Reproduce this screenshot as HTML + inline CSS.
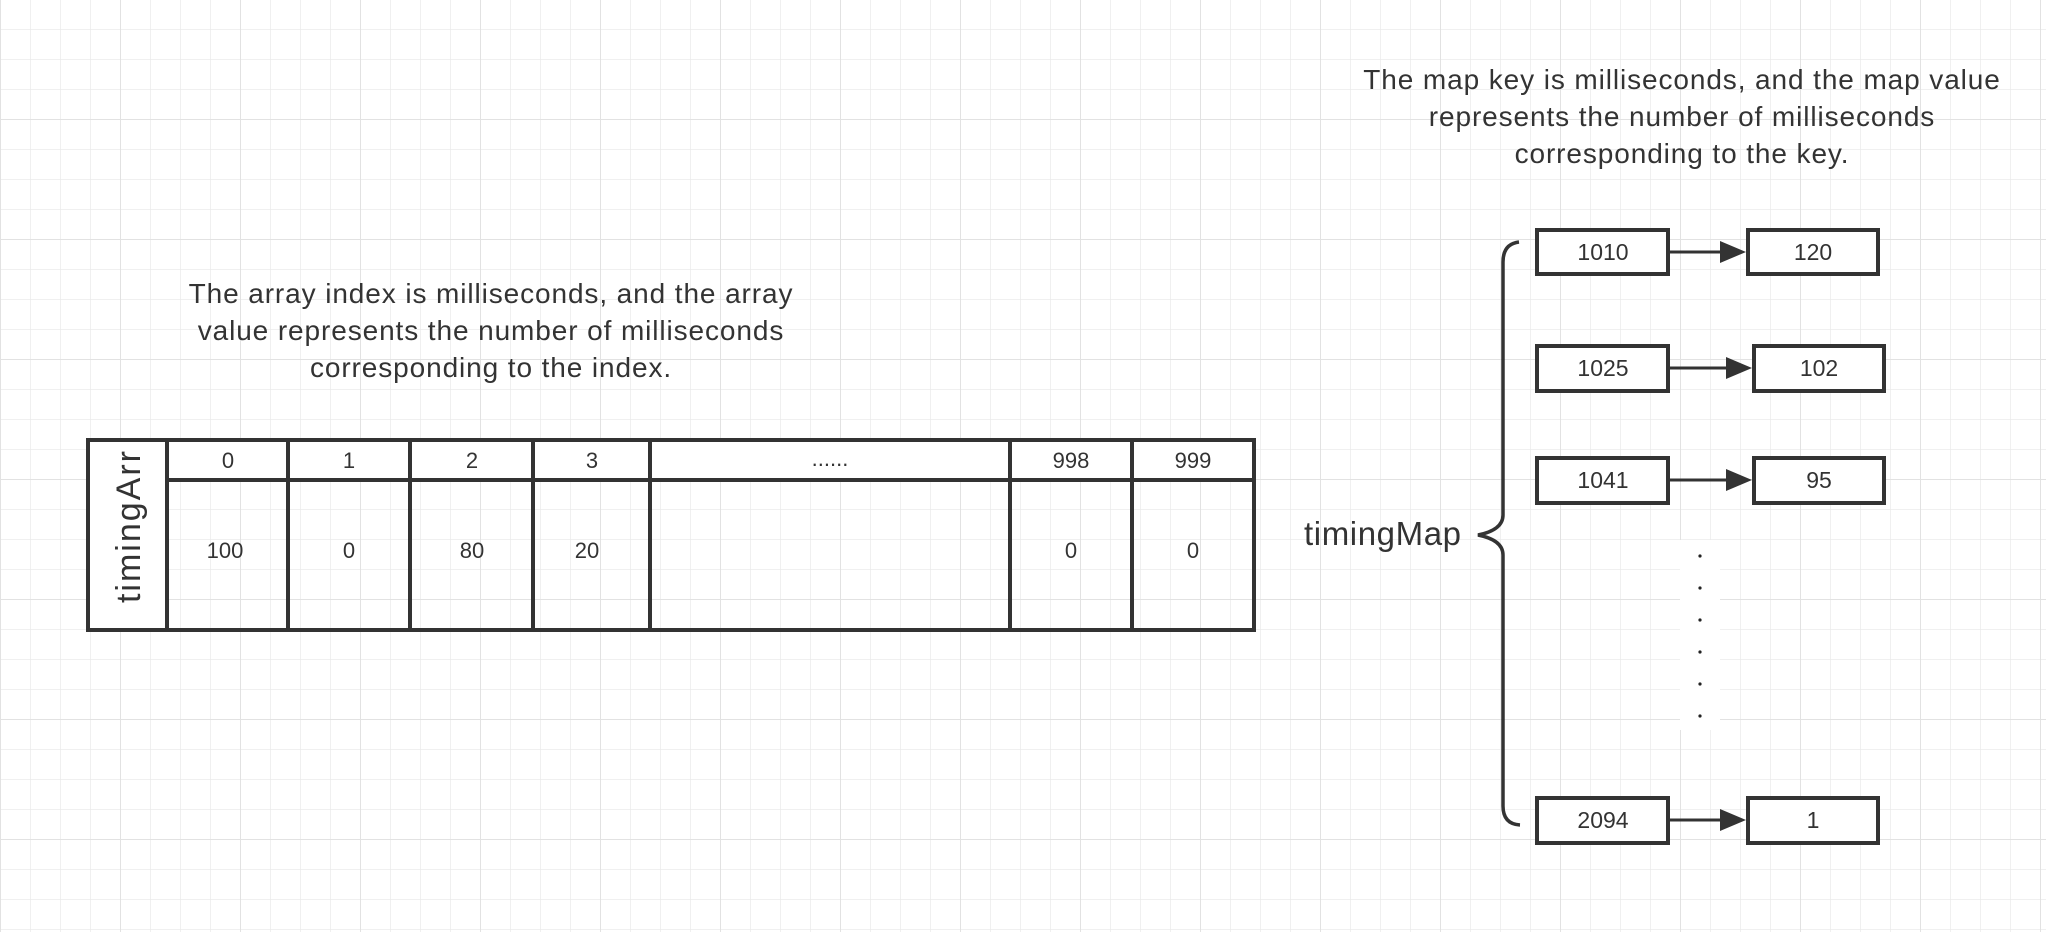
<!DOCTYPE html>
<html><head><meta charset="utf-8"><style>
html,body{margin:0;padding:0;background:#fff;}
svg{display:block;}
text{font-family:"Liberation Sans",sans-serif;fill:#333;}
</style></head><body>
<svg width="2046" height="932" viewBox="0 0 2046 932" xmlns="http://www.w3.org/2000/svg">
<defs>
<pattern id="g" width="30" height="30" patternUnits="userSpaceOnUse" x="1" y="0">
<path d="M30 0V30M0 30H30" stroke="#ebebeb" stroke-width="1.5" fill="none"/>
</pattern>
<pattern id="G" width="120" height="120" patternUnits="userSpaceOnUse" x="1" y="0">
<path d="M120 0V120M0 120H120" stroke="#e2e2e2" stroke-width="2" fill="none"/>
</pattern>
</defs>
<rect width="2046" height="932" fill="url(#g)"/>
<rect width="2046" height="932" fill="url(#G)"/>

<g font-size="28" text-anchor="middle" letter-spacing="0.9">
<text x="491" y="303">The array index is milliseconds, and the array</text>
<text x="491" y="340">value represents the number of milliseconds</text>
<text x="491" y="377">corresponding to the index.</text>
</g>
<g font-size="28" text-anchor="middle" letter-spacing="0.9">
<text x="1682" y="89">The map key is milliseconds, and the map value</text>
<text x="1682" y="126">represents the number of milliseconds</text>
<text x="1682" y="163">corresponding to the key.</text>
</g>

<g stroke="#333" stroke-width="4" fill="none">
<rect x="88" y="440" width="79" height="190" fill="#fff"/>
<rect x="167" y="440" width="1087" height="40" fill="#fff"/>
<rect x="88" y="440" width="1166" height="190"/>
<path d="M167 440V630M288 440V630M410 440V630M533 440V630M650 440V630M1010 440V630M1132 440V630M167 480H1254"/>
</g>
<text transform="translate(140,526) rotate(-90)" font-size="34" letter-spacing="2" text-anchor="middle">timingArr</text>
<g font-size="22" text-anchor="middle">
<text x="228" y="468">0</text><text x="349" y="468">1</text><text x="472" y="468">2</text><text x="592" y="468">3</text>
<text x="830" y="466">......</text><text x="1071" y="468">998</text><text x="1193" y="468">999</text>
<text x="225" y="558">100</text><text x="349" y="558">0</text><text x="472" y="558">80</text><text x="587" y="558">20</text>
<text x="1071" y="558">0</text><text x="1193" y="558">0</text>
</g>

<text x="1304" y="545" font-size="33" letter-spacing="0.6">timingMap</text>
<path d="M1519 242 Q1503 244 1503 262 V515 Q1503 530 1478 535 Q1503 540 1503 555 V806 Q1503 824 1520 825" stroke="#333" stroke-width="3.5" fill="none"/>
<g stroke="#333" stroke-width="4" fill="#fff">
<rect x="1537" y="230" width="131" height="44"/><rect x="1748" y="230" width="130" height="44"/>
<rect x="1537" y="346" width="131" height="45"/><rect x="1754" y="346" width="130" height="45"/>
<rect x="1537" y="458" width="131" height="45"/><rect x="1754" y="458" width="130" height="45"/>
<rect x="1537" y="798" width="131" height="45"/><rect x="1748" y="798" width="130" height="45"/>
</g>
<g stroke="#333" stroke-width="3">
<path d="M1670 252H1722M1670 368H1728M1670 480H1728M1670 820H1722"/>
</g>
<g fill="#333">
<path d="M1746 252l-26 -11v22z"/><path d="M1752 368l-26 -11v22z"/><path d="M1752 480l-26 -11v22z"/><path d="M1746 820l-26 -11v22z"/>
</g>
<g font-size="23" text-anchor="middle">
<text x="1603" y="260">1010</text><text x="1813" y="260">120</text>
<text x="1603" y="376">1025</text><text x="1819" y="376">102</text>
<text x="1603" y="488">1041</text><text x="1819" y="488">95</text>
<text x="1603" y="828">2094</text><text x="1813" y="828">1</text>
</g>
<rect x="1680" y="540" width="40" height="190" fill="#fff"/>
<g fill="#222">
<circle cx="1700" cy="556" r="1.6"/><circle cx="1700" cy="588" r="1.6"/><circle cx="1700" cy="620" r="1.6"/>
<circle cx="1700" cy="652" r="1.6"/><circle cx="1700" cy="684" r="1.6"/><circle cx="1700" cy="716" r="1.6"/>
</g>
</svg>
</body></html>
